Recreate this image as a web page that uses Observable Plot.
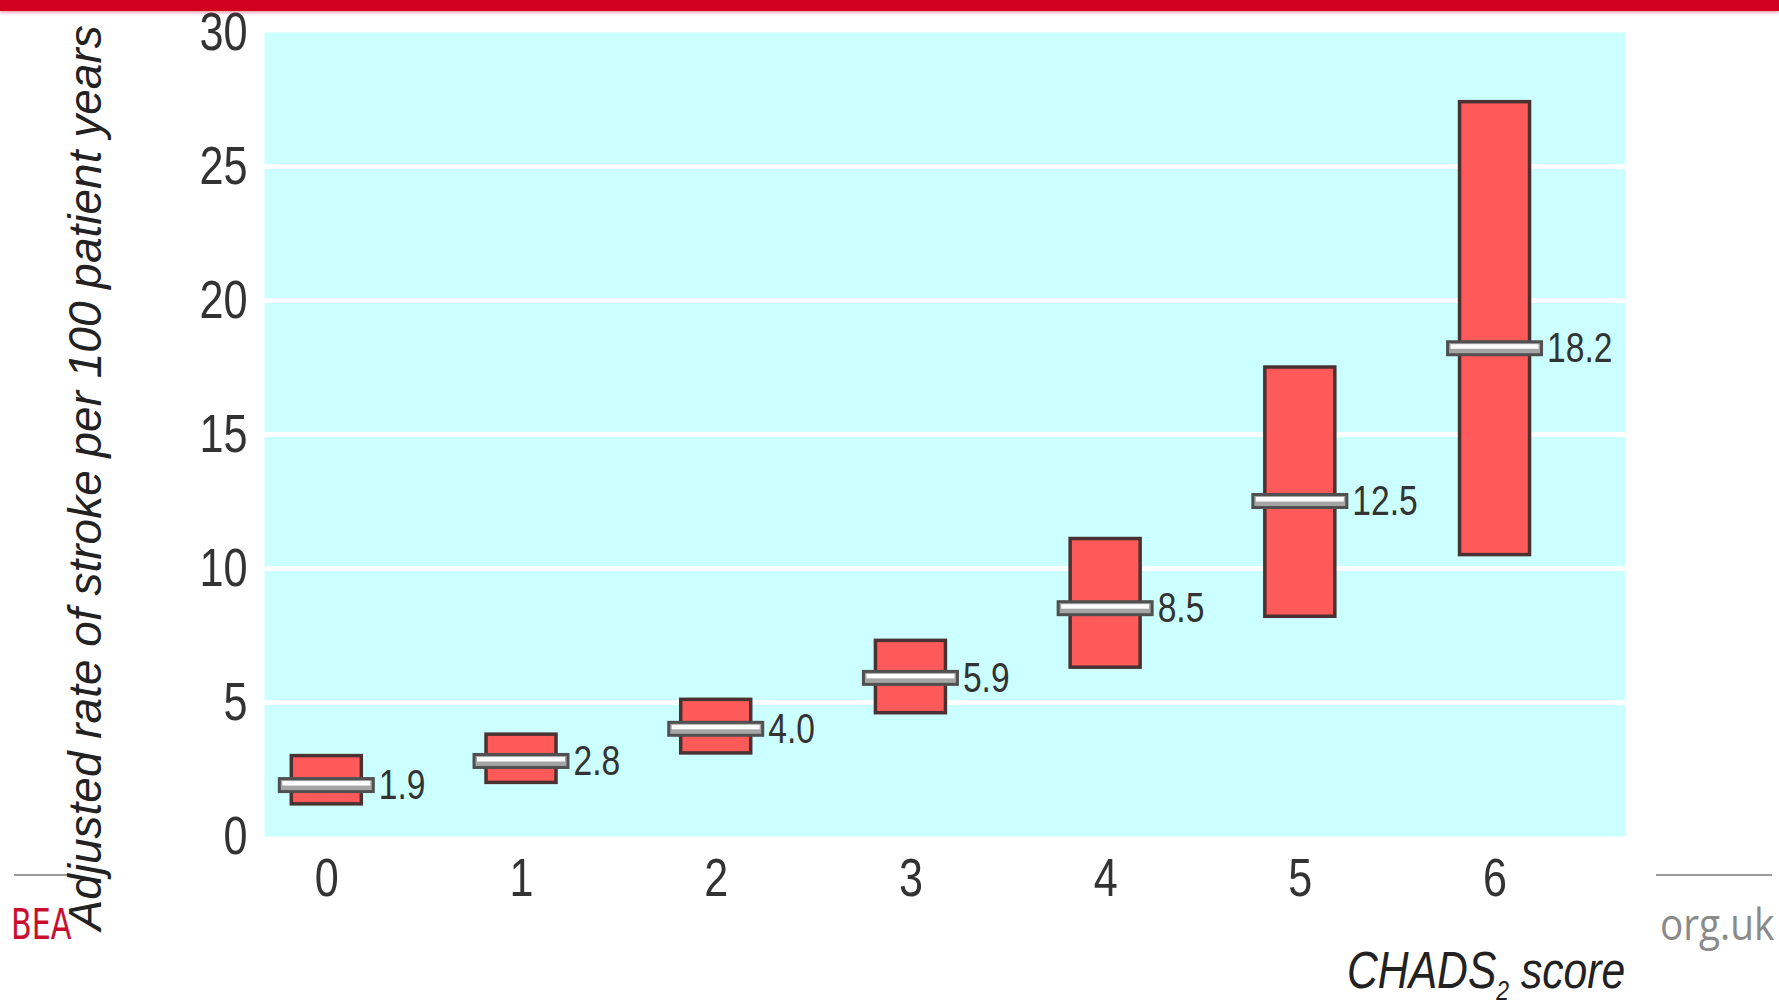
<!DOCTYPE html>
<html><head><meta charset="utf-8">
<script src="https://cdn.jsdelivr.net/npm/d3@7"></script>
<script src="https://cdn.jsdelivr.net/npm/@observablehq/plot@0.6"></script>
<style>
body{margin:0;background:#fff;}
#wrap{position:relative;width:1779px;height:1005px;overflow:hidden;font-family:"Liberation Sans",Arial,sans-serif;}
#topbar{position:absolute;left:0;top:0;width:1779px;height:11px;background:#d2001e;box-shadow:0 2px 3px rgba(210,0,40,0.35);z-index:5;}
.gline{position:absolute;height:2px;background:#9a9a9a;}
#bea{position:absolute;left:11px;top:900px;white-space:nowrap;color:#c8102e;font-family:"DejaVu Sans Condensed",sans-serif;font-size:42px;line-height:50px;transform:scaleX(0.8);transform-origin:left center;}
#orguk{position:absolute;left:1660px;top:896px;white-space:nowrap;color:#8a8a8a;font-family:"Open Sans",sans-serif;font-size:43px;line-height:56px;transform:scaleX(0.9);transform-origin:left center;}
#xlabel{position:absolute;right:154px;top:942px;font-style:italic;font-size:52px;line-height:56px;color:#222;white-space:nowrap;transform:scaleX(0.82);transform-origin:right center;}
#xlabel sub{font-size:28px;vertical-align:-12px;}
#chart{position:absolute;left:0;top:0;z-index:2;}
</style></head><body><div id="wrap"><div id="chart"></div>
<div id="topbar"></div>
<div class="gline" style="left:14px;width:54px;top:874px;"></div>
<div class="gline" style="left:1656px;width:116px;top:874px;"></div>
<div id="bea">BEA</div>
<div id="orguk">org.uk</div>
<div id="xlabel">CHADS<sub>2</sub> score</div>
</div>
<script>
const scores = [0, 1, 2, 3, 4, 5, 6];
const rates = [1.9, 2.8, 4.0, 5.9, 8.5, 12.5, 18.2];
const lower = [1.2, 2.0, 3.1, 4.6, 6.3, 8.2, 10.5];
const upper = [3.0, 3.8, 5.1, 7.3, 11.1, 17.5, 27.4];
const yTicks = [0, 5, 10, 15, 20, 25, 30];
const gridLines = [5, 10, 15, 20, 25];
const yTitle = ["Adjusted rate of stroke per 100 patient years"];

const data = scores.map((s, i) => ({score: s, rate: rates[i], lo: lower[i], hi: upper[i]}));
const font = '"Liberation Sans",Arial,sans-serif';

const chart = Plot.plot({
  width: 1779,
  height: 1005,
  marginLeft: 264,
  marginRight: 154,
  marginTop: 32,
  marginBottom: 169,
  style: {fontFamily: font, fontSize: "54px", color: "#333", background: "transparent", overflow: "visible"},
  x: {domain: [-0.32, 6.67], label: null},
  y: {domain: [0, 30], label: null},
  marks: [
    Plot.frame({fill: "#ccffff", stroke: "none"}),
    Plot.ruleY(gridLines, {stroke: "white", strokeWidth: 5}),
    Plot.axisY({ticks: yTicks, tickSize: 0, tickPadding: 17, label: null, fontSize: 54, tickFormat: d => String(d)}),
    Plot.axisX({ticks: scores, tickSize: 0, tickPadding: 21, label: null, fontSize: 54, tickFormat: d => String(d)}),
    Plot.rect(data, {x1: "score", x2: "score", y1: "lo", y2: "hi", insetLeft: -35, insetRight: -35, fill: "#ff5a5a", stroke: "#4a3232", strokeWidth: 3.5}),
    Plot.rect(data, {x1: "score", x2: "score", y1: "rate", y2: "rate", insetLeft: -47, insetRight: -47, insetTop: -6.5, insetBottom: -6.5, fill: "#a5a5a5", stroke: "#505050", strokeWidth: 3}),
    Plot.rect(data, {x1: "score", x2: "score", y1: "rate", y2: "rate", insetLeft: -44, insetRight: -44, insetTop: -4, insetBottom: -0.5, fill: "#ffffff"}),
    Plot.text(data, {x: "score", y: "rate", text: d => d.rate.toFixed(1), dx: 52, textAnchor: "start", fontSize: 42, fill: "#333"}),
    Plot.text(yTitle, {frameAnchor: "bottom-left", rotate: -90, textAnchor: "start", dx: -164, dy: 94, fontSize: 46, fontStyle: "italic", fill: "#222"})
  ]
});
document.getElementById("chart").appendChild(chart);

// condense the tick and value labels horizontally to mimic the narrow typeface of the original
chart.querySelectorAll("text").forEach(t => {
  if (t.textContent === yTitle[0]) return;
  const len = t.getComputedTextLength();
  if (!len) return;
  t.setAttribute("textLength", (len * 0.8).toFixed(1));
  t.setAttribute("lengthAdjust", "spacingAndGlyphs");
});
</script></body></html>
